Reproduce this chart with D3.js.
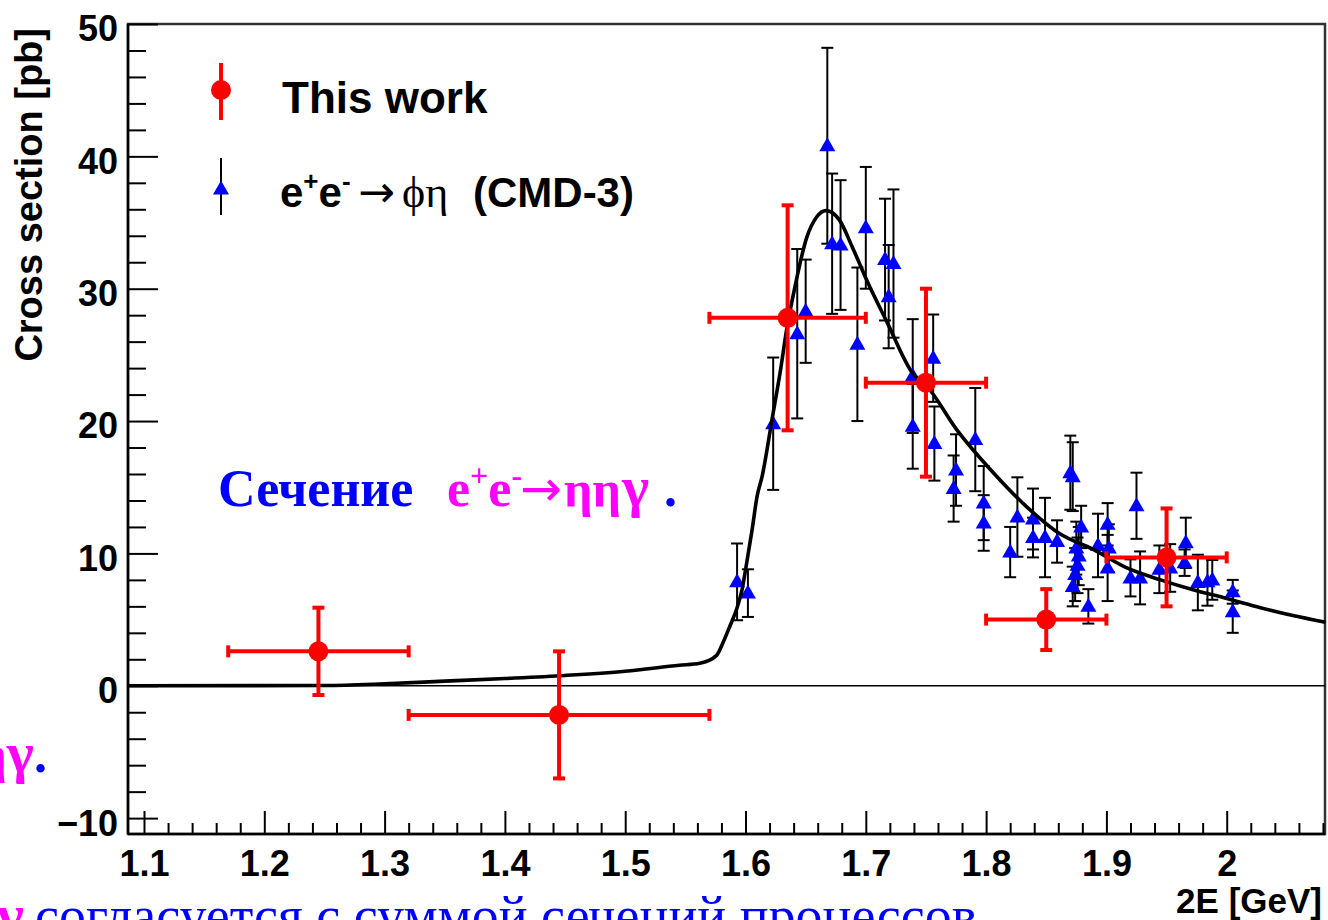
<!DOCTYPE html>
<html>
<head>
<meta charset="utf-8">
<script src="https://cdn.jsdelivr.net/npm/d3@7"></script>
<style>
  html, body { margin: 0; padding: 0; background: #fff; }
  svg { display: block; }
</style>
</head>
<body>
<svg id="chart" width="1328" height="920"></svg>
<script>
// ---- This work: e+e- -> eta eta gamma, per energy bin ----
const workE   = [1.245, 1.445, 1.635, 1.75, 1.85, 1.95];
const workLo  = [1.17, 1.32, 1.57, 1.70, 1.80, 1.90];
const workHi  = [1.32, 1.57, 1.70, 1.80, 1.90, 2.00];
const workXS  = [2.6, -2.2, 27.8, 22.9, 5.0, 9.7];
const workErr = [3.3, 4.8, 8.5, 7.1, 2.3, 3.7];

// ---- CMD-3: e+e- -> phi eta, scaled to the eta eta gamma channel ----
const cmdE = [1.593, 1.602, 1.623, 1.643, 1.650, 1.668, 1.672, 1.679, 1.693, 1.700,
              1.716, 1.719, 1.723, 1.739, 1.739, 1.756, 1.757, 1.775, 1.773, 1.791,
              1.798, 1.798, 1.820, 1.826, 1.839, 1.839, 1.849, 1.859, 1.870, 1.872,
              1.879, 1.875, 1.877, 1.876, 1.874, 1.872, 1.885, 1.893, 1.901, 1.901,
              1.902, 1.920, 1.925, 1.928, 1.944, 1.953, 1.966, 1.965, 1.976, 1.984,
              1.988, 2.005, 2.005];
const cmdXS = [7.85, 7.0, 19.8, 26.6, 28.3, 40.8, 33.4, 33.3, 25.8, 34.6,
               32.2, 29.4, 31.9, 23.4, 19.6, 24.75, 18.3, 16.3, 14.9, 18.6,
               13.8, 12.3, 10.1, 12.75, 12.6, 11.2, 11.2, 10.9, 16.1, 15.8,
               12.0, 10.4, 9.8, 9.1, 8.4, 7.5, 6.0, 10.6, 12.2, 8.9,
               10.4, 8.15, 13.6, 8.15, 8.8, 8.9, 10.8, 9.3, 7.8, 7.85,
               8.0, 7.1, 5.6];
const cmdErr = [2.9, 1.8, 5.0, 6.4, 3.9, 7.4, 5.3, 4.9, 5.8, 4.6,
                4.6, 3.9, 5.6, 4.3, 3.2, 3.3, 2.8, 2.7, 2.5, 3.9,
                2.8, 2.1, 1.9, 3.0, 2.3, 1.5, 3.0, 1.6, 2.8, 2.6,
                1.6, 2.0, 2.2, 2.1, 2.0, 1.5, 1.3, 2.4, 1.6, 2.5,
                1.8, 1.4, 2.5, 2.0, 1.8, 1.8, 1.9, 1.0, 2.1, 1.8,
                1.5, 0.9, 1.6];

// ---- Fit curve ----
const fitE  = [1.087, 1.25, 1.30, 1.35, 1.40, 1.45, 1.50, 1.545, 1.562, 1.576,
               1.581, 1.587, 1.593, 1.597, 1.601, 1.6055, 1.6096, 1.614, 1.622, 1.629,
               1.634, 1.641, 1.651, 1.659, 1.667, 1.678, 1.689, 1.701, 1.718, 1.739,
               1.751, 1.776, 1.806, 1.834, 1.861, 1.889, 1.917, 1.945, 1.972, 2.0,
               2.028, 2.055, 2.082];
const fitXS = [0, 0.02, 0.15, 0.35, 0.55, 0.78, 1.1, 1.55, 1.7, 2.3,
               3.2, 4.5, 5.9, 7.2, 9.3, 11.8, 14.3, 15.9, 20.1, 23.8,
               26.8, 30.1, 33.9, 35.4, 35.9, 35.2, 33.1, 30.6, 27.4, 23.6,
               22.6, 19.3, 16.1, 13.5, 11.5, 10.3, 8.9, 8.0, 7.25, 6.6,
               5.9, 5.3, 4.8];

// ---- Axis ticks ----
const xTickValues = [1.1, 1.2, 1.3, 1.4, 1.5, 1.6, 1.7, 1.8, 1.9, 2.0];
const xTickLabels = ["1.1", "1.2", "1.3", "1.4", "1.5", "1.6", "1.7", "1.8", "1.9", "2"];
const yTickValues = [-10, 0, 10, 20, 30, 40, 50];
const yTickLabels = ["\u221210", "0", "10", "20", "30", "40", "50"];

const svg = d3.select("#chart");
const L = 128, R = 1325, T = 24, B = 834;
const x = d3.scaleLinear().domain([1.0867, 2.0817]).range([L, R]);
const y = d3.scaleLinear().domain([-11.2, 50]).range([B, T]);

const sansBold = "'Liberation Sans', Arial, Helvetica, sans-serif";
const serif = "'Liberation Serif', 'Times New Roman', serif";
const arrowFont = "'DejaVu Sans', sans-serif";

// frame
svg.append("rect")
  .attr("x", L).attr("y", T).attr("width", R - L).attr("height", B - T)
  .attr("fill", "#fff").attr("stroke", "#333").attr("stroke-width", 2.5);

// minor ticks
const xMinor = d3.range(55, 105).filter(i => i % 5 !== 0).map(i => i / 50);
const yMinor = d3.range(-10, 51, 2).filter(v => v % 10 !== 0);

svg.append("g").attr("transform", `translate(0,${B})`)
  .call(d3.axisBottom(x).tickValues(xMinor).tickFormat("").tickSize(-11))
  .call(g => g.select(".domain").remove())
  .selectAll("line").attr("stroke", "#000").attr("stroke-width", 2);

svg.append("g").attr("transform", `translate(${L},0)`)
  .call(d3.axisLeft(y).tickValues(yMinor).tickFormat("").tickSize(-18))
  .call(g => g.select(".domain").remove())
  .selectAll("line").attr("stroke", "#000").attr("stroke-width", 2);

// major ticks + labels
const xAxisG = svg.append("g").attr("transform", `translate(0,${B})`)
  .call(d3.axisBottom(x).tickValues(xTickValues)
        .tickFormat((d, i) => xTickLabels[i]).tickSize(-23).tickPadding(16))
  .call(g => g.select(".domain").remove());
xAxisG.selectAll("line").attr("stroke", "#000").attr("stroke-width", 2);
xAxisG.selectAll("text")
  .attr("fill", "#000").style("font-family", sansBold)
  .style("font-weight", "bold").style("font-size", "36px");

const yAxisG = svg.append("g").attr("transform", `translate(${L},0)`)
  .call(d3.axisLeft(y).tickValues(yTickValues)
        .tickFormat((d, i) => yTickLabels[i]).tickSize(-30).tickPadding(10))
  .call(g => g.select(".domain").remove());
yAxisG.selectAll("line").attr("stroke", "#000").attr("stroke-width", 2);
yAxisG.selectAll("text")
  .attr("dy", "0.47em")
  .attr("fill", "#000").style("font-family", sansBold)
  .style("font-weight", "bold").style("font-size", "36px");

// axis lines
svg.append("line").attr("x1", L).attr("x2", L).attr("y1", T).attr("y2", B)
  .attr("stroke", "#000").attr("stroke-width", 2.5);
svg.append("line").attr("x1", L).attr("x2", R).attr("y1", B).attr("y2", B)
  .attr("stroke", "#000").attr("stroke-width", 2.5);

// zero line
svg.append("line").attr("x1", L).attr("x2", R).attr("y1", y(0)).attr("y2", y(0))
  .attr("stroke", "#000").attr("stroke-width", 1.6);

// axis titles
svg.append("text")
  .attr("transform", `translate(42,28) rotate(-90)`)
  .attr("text-anchor", "end")
  .style("font-family", sansBold).style("font-weight", "bold").style("font-size", "38px")
  .text("Cross section [pb]");
svg.append("text")
  .attr("x", 1322).attr("y", 913).attr("text-anchor", "end")
  .style("font-family", sansBold).style("font-weight", "bold").style("font-size", "35px")
  .text("2E [GeV]");

// CMD-3 points
const cmd = cmdE.map((e, i) => ({ e, v: cmdXS[i], err: cmdErr[i] }));
const cmdG = svg.append("g");
cmdG.selectAll("line.bar").data(cmd).join("line")
  .attr("x1", d => x(d.e)).attr("x2", d => x(d.e))
  .attr("y1", d => y(d.v + d.err)).attr("y2", d => y(d.v - d.err))
  .attr("stroke", "#000").attr("stroke-width", 2);
cmdG.selectAll("line.capT").data(cmd).join("line")
  .attr("x1", d => x(d.e) - 6).attr("x2", d => x(d.e) + 6)
  .attr("y1", d => y(d.v + d.err)).attr("y2", d => y(d.v + d.err))
  .attr("stroke", "#000").attr("stroke-width", 2);
cmdG.selectAll("line.capB").data(cmd).join("line")
  .attr("x1", d => x(d.e) - 6).attr("x2", d => x(d.e) + 6)
  .attr("y1", d => y(d.v - d.err)).attr("y2", d => y(d.v - d.err))
  .attr("stroke", "#000").attr("stroke-width", 2);
const tri = "M0,-8.5L8,5.5L-8,5.5Z";
cmdG.selectAll("path").data(cmd).join("path")
  .attr("d", tri)
  .attr("transform", d => `translate(${x(d.e)},${y(d.v)})`)
  .attr("fill", "#0000ff");

// fit curve
const fit = fitE.map((e, i) => ({ e, v: fitXS[i] }));
svg.append("path").datum(fit)
  .attr("d", d3.line().x(d => x(d.e)).y(d => y(d.v)).curve(d3.curveMonotoneX))
  .attr("fill", "none").attr("stroke", "#000").attr("stroke-width", 3.6);

// This work points
const work = workE.map((e, i) => ({ e, lo: workLo[i], hi: workHi[i], v: workXS[i], err: workErr[i] }));
const red = "#ff0000";
const wG = svg.append("g");
wG.selectAll("line.h").data(work).join("line")
  .attr("x1", d => x(d.lo)).attr("x2", d => x(d.hi))
  .attr("y1", d => y(d.v)).attr("y2", d => y(d.v))
  .attr("stroke", red).attr("stroke-width", 4);
wG.selectAll("line.v").data(work).join("line")
  .attr("x1", d => x(d.e)).attr("x2", d => x(d.e))
  .attr("y1", d => y(d.v + d.err)).attr("y2", d => y(d.v - d.err))
  .attr("stroke", red).attr("stroke-width", 4);
["lo", "hi"].forEach(k => {
  wG.selectAll(`line.c${k}`).data(work).join("line")
    .attr("x1", d => x(d[k])).attr("x2", d => x(d[k]))
    .attr("y1", d => y(d.v) - 6).attr("y2", d => y(d.v) + 6)
    .attr("stroke", red).attr("stroke-width", 4);
});
[1, -1].forEach(s => {
  wG.selectAll(`line.cv${s}`).data(work).join("line")
    .attr("x1", d => x(d.e) - 6).attr("x2", d => x(d.e) + 6)
    .attr("y1", d => y(d.v + s * d.err)).attr("y2", d => y(d.v + s * d.err))
    .attr("stroke", red).attr("stroke-width", 4);
});
wG.selectAll("circle").data(work).join("circle")
  .attr("cx", d => x(d.e)).attr("cy", d => y(d.v)).attr("r", 10)
  .attr("fill", red);

// legend
const leg = svg.append("g");
leg.append("line").attr("x1", 221).attr("x2", 221).attr("y1", 63).attr("y2", 120)
  .attr("stroke", red).attr("stroke-width", 4);
leg.append("circle").attr("cx", 221).attr("cy", 90).attr("r", 10).attr("fill", red);
leg.append("text").attr("x", 282).attr("y", 113)
  .style("font-family", sansBold).style("font-weight", "bold").style("font-size", "44px")
  .text("This work");
leg.append("line").attr("x1", 221).attr("x2", 221).attr("y1", 158).attr("y2", 215)
  .attr("stroke", "#000").attr("stroke-width", 2);
leg.append("path").attr("d", tri).attr("transform", "translate(221,189)").attr("fill", "#0000ff");
const lt = leg.append("text").attr("x", 280).attr("y", 207)
  .style("font-family", sansBold).style("font-weight", "bold").style("font-size", "42px");
lt.append("tspan").text("e");
lt.append("tspan").attr("dy", -17).style("font-size", "26px").text("+");
lt.append("tspan").attr("dy", 17).text("e");
lt.append("tspan").attr("dy", -17).style("font-size", "26px").text("-");
lt.append("tspan").attr("x", 358).attr("dy", 17)
  .style("font-weight", "normal").style("font-family", arrowFont).style("font-size", "44px")
  .text("\u2192");
lt.append("tspan").attr("x", 402)
  .style("font-weight", "normal").style("font-family", serif).style("font-size", "44px")
  .text("\u03d5\u03b7");
lt.append("tspan").attr("x", 473).text("(CMD-3)");

// slide annotations over the plot
const blue = "#0000ff", magenta = "#ff00ff";
const t1 = svg.append("text").attr("x", 218).attr("y", 506)
  .style("font-family", serif).style("font-weight", "bold").style("font-size", "52px");
t1.append("tspan").attr("fill", blue).text("Сечение");
t1.append("tspan").attr("x", 447).attr("fill", magenta).text("e");
t1.append("tspan").attr("fill", magenta).attr("dy", -20).style("font-size", "32px").text("+");
t1.append("tspan").attr("fill", magenta).attr("dy", 20).text("e");
t1.append("tspan").attr("fill", magenta).attr("dy", -20).style("font-size", "32px").text("-");
t1.append("tspan").attr("fill", magenta).attr("dy", 20).attr("x", 520)
  .style("font-family", arrowFont).style("font-weight", "normal").style("font-size", "50px")
  .text("\u2192");
t1.append("tspan").attr("fill", magenta).attr("x", 564).style("font-size", "50px")
  .text("\u03b7\u03b7");
t1.append("tspan").attr("fill", magenta).attr("x", 622).style("font-size", "58px")
  .text("\u03b3");
t1.append("tspan").attr("fill", blue).attr("x", 664).text(".");

const t2 = svg.append("text").attr("x", 47).attr("y", 772).attr("text-anchor", "end")
  .style("font-family", serif).style("font-weight", "bold").style("font-size", "52px");
t2.append("tspan").attr("fill", magenta).text("\u03b7");
t2.append("tspan").attr("fill", magenta).style("font-size", "58px").text("\u03b3");
t2.append("tspan").attr("fill", blue).text(".");

svg.append("text").attr("x", 24).attr("y", 934).attr("text-anchor", "end")
  .attr("fill", magenta)
  .style("font-family", serif).style("font-weight", "bold")
  .style("font-size", "58px")
  .text("\u03b7\u03b3");
svg.append("text").attr("x", 35).attr("y", 934).attr("fill", blue)
  .style("font-family", serif).style("font-size", "54px")
  .text("согласуется с суммой сечений процессов");
</script>
</body>
</html>
